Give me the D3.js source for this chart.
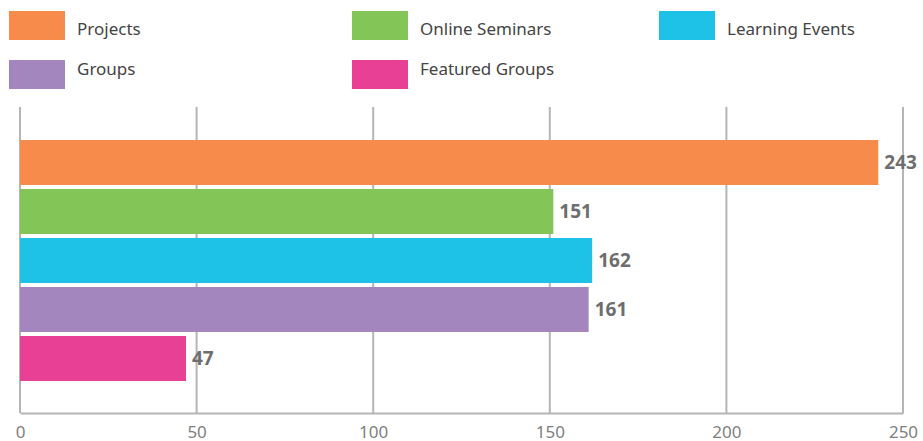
<!DOCTYPE html>
<html>
<head>
<meta charset="utf-8">
<script src="https://cdn.jsdelivr.net/npm/d3@7"></script>
<style>
  body { margin: 0; background: #fff; }
  svg { display: block; font-family: "Noto Sans", "DejaVu Sans", sans-serif; }
</style>
</head>
<body>
<div id="chart"></div>
<script>
const categories = ["Projects", "Online Seminars", "Learning Events", "Groups", "Featured Groups"]
const values = [243, 151, 162, 161, 47]
const colors = ["#F68B4B", "#84C557", "#1EC2E6", "#A286BD", "#E84095"]
const tickValues = [0, 50, 100, 150, 200, 250]

const W = 923, H = 441

let svg = d3.select("#chart").append("svg")
  .attr("width", W)
  .attr("height", H)

// scales
let x = d3.scaleLinear().domain([0, 250]).range([20, 903])
let y = d3.scaleBand().domain(categories).range([136, 385]).paddingInner(0.082).paddingOuter(0.082)

const gridTop = 107, gridBottom = 413

// grid lines
svg.append("g").selectAll("line")
  .data(tickValues)
  .enter()
  .append("line")
  .attr("x1", d => x(d))
  .attr("x2", d => x(d))
  .attr("y1", gridTop)
  .attr("y2", gridBottom)
  .attr("stroke", "#b5b5b5")
  .attr("stroke-width", 2)

// bottom axis
let axis = svg.append("g")
  .attr("transform", "translate(0," + gridBottom + ")")
  .call(d3.axisBottom(x).tickValues(tickValues).tickSize(0).tickPadding(13))
axis.select(".domain").attr("stroke", "#b5b5b5").attr("stroke-width", 2)
axis.selectAll("text")
  .style("font-size", "17px")
  .style("font-family", "'Noto Sans', sans-serif")
  .attr("fill", "#808080")

// bars
svg.append("g").selectAll("rect")
  .data(categories)
  .enter()
  .append("rect")
  .attr("x", x(0))
  .attr("y", d => y(d))
  .attr("width", (d, i) => x(values[i]) - x(0))
  .attr("height", y.bandwidth())
  .attr("fill", (d, i) => colors[i])

// value labels
svg.append("g").selectAll("text")
  .data(categories)
  .enter()
  .append("text")
  .attr("x", (d, i) => x(values[i]) + 6)
  .attr("y", d => y(d) + y.bandwidth() / 2)
  .attr("dy", "0.36em")
  .text((d, i) => values[i])
  .style("font-size", "19px")
  .style("font-weight", "bold")
  .attr("fill", "#6e6e6e")

// legend
const legendPos = [[9, 11], [352, 11], [659, 11], [9, 60], [352, 60]]
const legendTextY = [29, 29, 29, 69, 69]

let legend = svg.append("g")

legend.selectAll("rect")
  .data(categories)
  .enter()
  .append("rect")
  .attr("x", (d, i) => legendPos[i][0])
  .attr("y", (d, i) => legendPos[i][1])
  .attr("width", 56)
  .attr("height", 29)
  .attr("fill", (d, i) => colors[i])

legend.selectAll("text")
  .data(categories)
  .enter()
  .append("text")
  .attr("x", (d, i) => legendPos[i][0] + 68)
  .attr("y", (d, i) => legendTextY[i])
  .attr("dy", "0.36em")
  .text(d => d)
  .style("font-size", "17px")
  .attr("fill", "#444")
</script>
</body>
</html>
